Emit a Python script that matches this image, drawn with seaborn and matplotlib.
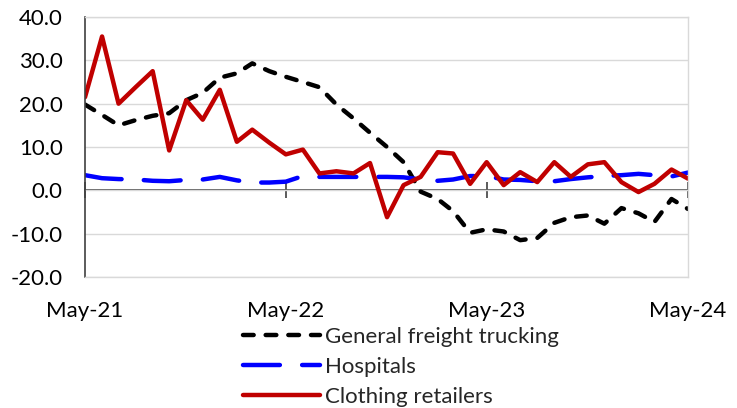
import matplotlib
matplotlib.use("Agg")
import matplotlib.pyplot as plt
import seaborn as sns
import pandas as pd
import numpy as np

months = pd.date_range("2021-05-01", periods=37, freq="MS")

freight = [19.8, 17.4, 15.0, 16.2, 17.2, 17.8, 20.8, 22.5, 26.0, 27.0, 29.3, 27.5,
           26.2, 25.0, 23.8, 19.8, 16.6, 13.3, 10.0, 6.5, -0.3, -2.0, -4.8, -9.8,
           -9.0, -9.5, -11.5, -11.0, -7.5, -6.2, -5.8, -7.7, -4.1, -5.3, -7.3, -2.0, -4.3]
hospitals = [3.5, 2.8, 2.6, 2.5, 2.2, 2.1, 2.4, 2.5, 3.1, 2.3, 1.8, 1.8,
             2.0, 3.3, 3.1, 3.1, 3.1, 3.1, 3.1, 3.0, 2.5, 2.2, 2.5, 3.3,
             3.3, 2.5, 2.4, 2.1, 2.1, 2.6, 3.0, 3.3, 3.5, 3.8, 3.5, 3.2, 4.1]
clothing = [21.5, 35.5, 20.0, 23.8, 27.5, 9.2, 20.8, 16.3, 23.2, 11.2, 14.0, 11.0,
            8.3, 9.4, 3.9, 4.4, 3.9, 6.3, -6.2, 1.2, 3.1, 8.8, 8.5, 1.5,
            6.5, 1.2, 4.2, 1.9, 6.5, 3.1, 6.0, 6.5, 1.9, -0.4, 1.5, 4.8, 2.7]

series_names = ["General freight trucking", "Hospitals", "Clothing retailers"]
tick_dates = pd.to_datetime(["2021-05-01", "2022-05-01", "2023-05-01", "2024-05-01"])
tick_labels = ["May-21", "May-22", "May-23", "May-24"]
y_ticks = [-20, -10, 0, 10, 20, 30, 40]

sns.set_theme(style="white")
plt.rcParams["font.family"] = ["Lato", "DejaVu Sans"]

df = pd.DataFrame({"month": months,
                   series_names[0]: freight,
                   series_names[1]: hospitals,
                   series_names[2]: clothing})

fig = plt.figure(figsize=(7.37, 4.08), dpi=100)
ax = fig.add_axes([85 / 737, 1 - 277 / 408, (688 - 85) / 737, (277 - 17) / 408])

lw = 3.2
fs = 16
styles = {
    series_names[0]: dict(color="#000000", dashes=(2.4, 2.7)),
    series_names[1]: dict(color="#0000FF", dashes=(8.3, 5.0)),
    series_names[2]: dict(color="#C00000", dashes=None),
}
for name in series_names:
    st = styles[name]
    sns.lineplot(data=df, x="month", y=name, ax=ax, color=st["color"],
                 linewidth=lw, label=name, legend=False)
    line = ax.lines[-1]
    line.set_solid_capstyle("round")
    line.set_solid_joinstyle("round")
    if st["dashes"] is not None:
        line.set_dashes(st["dashes"])
        line.set_dash_capstyle("round")
        line.set_dash_joinstyle("round")

ax.set_xlim(months[0], months[-1])
ax.set_ylim(-20, 40)
ax.set_yticks(y_ticks)
ax.set_yticklabels([f"{v:.1f}" for v in y_ticks])
ax.set_xticks(tick_dates)
ax.set_xticklabels(tick_labels)
ax.set_xlabel("")
ax.set_ylabel("")
ax.yaxis.grid(True, color="#d9d9d9", linewidth=1.0)
ax.xaxis.grid(False)
ax.tick_params(axis="y", length=0, pad=16, labelsize=fs, colors="#000000")
ax.tick_params(axis="x", length=0, pad=17, labelsize=fs, colors="#000000")

for s in ["top", "right", "bottom"]:
    ax.spines[s].set_color("#d9d9d9")
    ax.spines[s].set_linewidth(1.0)
ax.spines["left"].set_color("#404040")
ax.spines["left"].set_linewidth(1.2)

# zero axis line with crossing ticks
sec = ax.secondary_xaxis(1 / 3)
sec.set_xticks(tick_dates)
sec.set_xticklabels([])
sec.tick_params(axis="x", direction="inout", length=11, width=1.2, color="#404040")
sec.spines["bottom"].set_color("#404040")
sec.spines["bottom"].set_linewidth(1.2)

handles = ax.lines[:3]
leg = fig.legend(handles=handles, labels=series_names, loc="upper left",
                 bbox_to_anchor=(243 / 737, 1 - 327 / 408), frameon=False,
                 fontsize=fs, handlelength=3.45, handletextpad=0.25,
                 labelspacing=0.45, borderpad=0, borderaxespad=0)

fig.savefig("out.png", dpi=100)
